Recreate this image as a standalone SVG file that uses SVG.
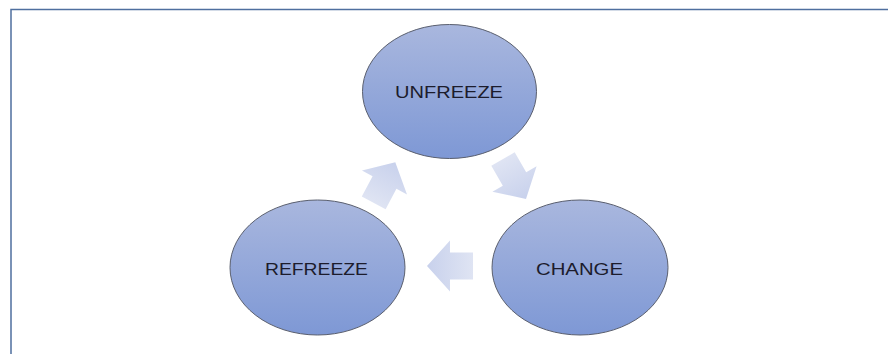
<svg xmlns="http://www.w3.org/2000/svg" width="888" height="354" viewBox="0 0 888 354">
  <defs>
    <linearGradient id="nodeGrad" x1="0" y1="0" x2="0" y2="1">
      <stop offset="0" stop-color="#a9b7de"/>
      <stop offset="1" stop-color="#7e98d5"/>
    </linearGradient>
    <linearGradient id="arrowGrad" x1="0" y1="0" x2="1" y2="0">
      <stop offset="0" stop-color="#dfe4f3"/>
      <stop offset="1" stop-color="#c8d1ec"/>
    </linearGradient>
    <path id="blockArrow" d="M-23,-13.5 L0,-13.5 L0,-25.5 L23,0 L0,25.5 L0,13.5 L-23,13.5 Z"/>
    <style>
      .node { fill: url(#nodeGrad); stroke: #5a5f6e; stroke-width: 1; }
      .label { font-family: "Liberation Sans", "Open Sans", sans-serif; font-size: 17px; fill: #1c1c2c; text-anchor: middle; }
      .conn { fill: url(#arrowGrad); stroke: none; }
      .frame { fill: none; stroke: #4f6f9f; stroke-width: 1.5; }
    </style>
  </defs>
  <rect width="888" height="354" fill="#ffffff"/>
  <path class="frame" d="M11,354 L11,9.5 L888,9.5"/>

  <g id="connectors">
    <use href="#blockArrow" class="conn" transform="translate(384.5,182.5) rotate(-62)"/>
    <use href="#blockArrow" class="conn" transform="translate(514.5,179) rotate(60)"/>
    <use href="#blockArrow" class="conn" transform="translate(450,266) rotate(180)"/>
  </g>

  <g id="unfreeze">
    <ellipse class="node" cx="449.5" cy="91.5" rx="87" ry="67"/>
    <text class="label" x="449" y="98" textLength="108" lengthAdjust="spacingAndGlyphs">UNFREEZE</text>
  </g>
  <g id="change">
    <ellipse class="node" cx="580" cy="267.5" rx="88" ry="67.5"/>
    <text class="label" x="579.5" y="275" textLength="87" lengthAdjust="spacingAndGlyphs">CHANGE</text>
  </g>
  <g id="refreeze">
    <ellipse class="node" cx="317.5" cy="267.5" rx="87.5" ry="67.5"/>
    <text class="label" x="316.5" y="275" textLength="103" lengthAdjust="spacingAndGlyphs">REFREEZE</text>
  </g>
</svg>
